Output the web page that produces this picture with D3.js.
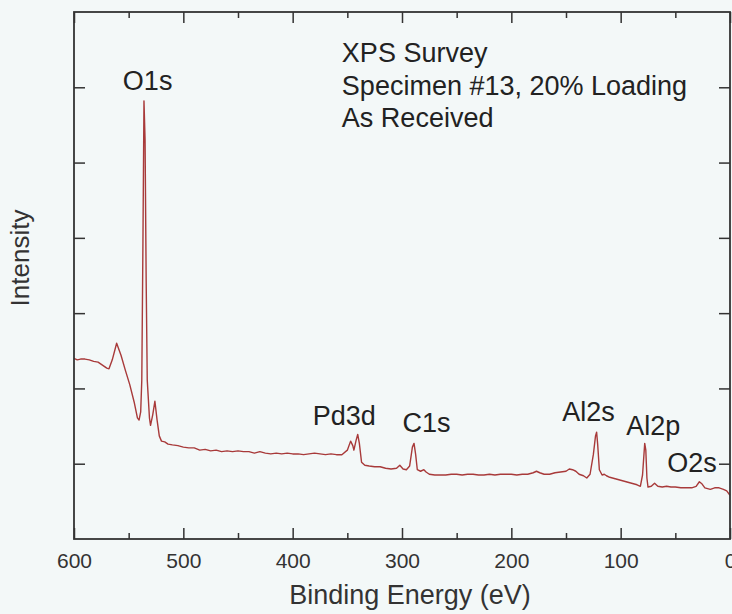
<!DOCTYPE html>
<html>
<head>
<meta charset="utf-8">
<script src="https://cdn.jsdelivr.net/npm/d3@7"></script>
<style>
  body { margin: 0; background: #f3f8f8; }
  svg { display: block; font-family: "Liberation Sans", Arial, sans-serif; }
</style>
</head>
<body>
<script>
// binding energy (eV) and intensity
var energy = [600, 597, 594, 590, 586, 582, 578, 574, 570, 568, 565, 561, 557, 553, 549, 545, 542, 540.5, 539, 538,
  537, 536, 535, 534, 533, 531, 530, 528, 526, 524, 522, 520, 517, 514, 510, 505, 500, 495, 490, 485,
  480, 475, 470, 465, 460, 455, 450, 445, 440, 435, 430, 425, 420, 415, 410, 405, 400, 395, 390, 385,
  380, 375, 370, 365, 360, 355, 350, 347, 345, 344, 342, 340.5, 339, 337, 334, 330, 325, 320, 315, 310,
  305, 302, 299, 296, 293, 290.5, 289, 287.5, 286, 283, 280, 278, 275, 270, 265, 260, 255, 250, 245, 240,
  235, 230, 225, 220, 215, 210, 205, 200, 195, 190, 185, 180, 177, 174, 170, 165, 160, 155, 150, 147,
  144, 141, 138, 134, 131, 128, 125, 123, 122, 121, 119.5, 117, 115, 113, 110, 105, 100, 95, 90, 85,
  82, 80, 78, 77, 76, 75, 72, 69, 66, 62, 58, 54, 50, 45, 40, 35, 31, 28, 25.5, 23,
  18, 14, 10, 6, 3, 0];
var intensity = [24.0, 23.8, 23.9, 23.9, 23.8, 23.6, 23.5, 23.1, 22.7, 22.6, 23.8, 26.0, 24.4, 22.4, 20.5, 18.2, 16.1, 15.8, 16.9, 21.1,
  38.4, 58.2, 53.0, 34.4, 21.1, 16.1, 15.1, 16.5, 18.3, 15.8, 13.7, 13.0, 12.9, 12.6, 12.5, 12.4, 12.2, 12.1, 12.1, 11.8,
  11.9, 11.7, 11.8, 11.6, 11.7, 11.6, 11.7, 11.6, 11.6, 11.4, 11.6, 11.4, 11.3, 11.4, 11.3, 11.4, 11.3, 11.3, 11.2, 11.3,
  11.4, 11.3, 11.2, 11.3, 11.2, 11.2, 11.8, 13.0, 12.4, 11.8, 13.1, 13.9, 12.7, 10.2, 9.8, 9.7, 9.6, 9.6, 9.4, 9.3,
  9.4, 9.8, 9.3, 9.2, 9.7, 12.2, 12.7, 11.2, 9.2, 9.0, 9.2, 8.9, 8.6, 8.5, 8.5, 8.5, 8.6, 8.6, 8.5, 8.6,
  8.6, 8.5, 8.5, 8.6, 8.5, 8.6, 8.6, 8.6, 8.5, 8.6, 8.6, 8.8, 9.0, 8.8, 8.6, 8.6, 8.8, 8.9, 9.0, 9.3,
  9.2, 9.0, 8.6, 8.4, 8.1, 8.6, 11.2, 13.7, 14.2, 12.5, 9.2, 8.5, 8.6, 8.4, 8.2, 8.0, 7.8, 7.6, 7.4, 7.2,
  7.0, 8.5, 12.7, 11.8, 8.1, 6.9, 7.0, 7.4, 7.0, 6.9, 7.0, 6.9, 6.9, 6.8, 6.8, 6.8, 7.0, 7.6, 7.3, 6.8,
  6.6, 6.8, 6.8, 6.6, 6.4, 5.8];

var xTicks = [600, 500, 400, 300, 200, 100, 0];
var xMinor = [550, 450, 350, 250, 150, 50];
var yTicks = [10, 20, 30, 40, 50, 60];

// peak labels: name, where the label starts (eV) and its baseline (intensity)
var peakNames = ["O1s", "Pd3d", "C1s", "Al2s", "Al2p", "O2s"];
var peakEnergy = [555.3, 381.7, 299.5, 153.4, 95.0, 57.5];
var peakLevel = [59.6, 15.1, 14.2, 15.7, 13.8, 8.9];

var noteLines = ["XPS Survey", "Specimen #13, 20% Loading", "As Received"];

function init() {
    var w = 732, h = 614;
    var margin = {top: 12, right: 2, bottom: 75, left: 74};
    var iw = w - margin.left - margin.right;
    var ih = h - margin.top - margin.bottom;

    var svg = d3.select("body").append("svg")
        .attr("width", w)
        .attr("height", h);

    var g = svg.append("g")
        .attr("transform", "translate(" + margin.left + "," + margin.top + ")");

    var x = d3.scaleLinear().domain([600, 0]).range([0, iw]);
    var y = d3.scaleLinear().domain([0, 70]).range([ih, 0]);

    var ink = "#333";

    // spectrum
    var pts = energy.map(function (e, i) { return [e, intensity[i]]; });
    var line = d3.line()
        .x(function (d) { return x(d[0]); })
        .y(function (d) { return y(d[1]); });
    g.append("path")
        .datum(pts)
        .attr("fill", "none")
        .attr("stroke", "#a83a3a")
        .attr("stroke-width", 1.4)
        .attr("stroke-linejoin", "round")
        .attr("d", line);

    // axes: ticks pointing inward on all four sides
    function styleAxis(sel) {
        sel.selectAll(".domain").remove();
        sel.selectAll("line").attr("stroke", ink).attr("stroke-width", 1.5);
        sel.selectAll("text").attr("fill", ink).attr("font-size", 21);
    }
    g.append("g").attr("transform", "translate(0," + ih + ")")
        .call(d3.axisBottom(x).tickValues(xTicks).tickSize(-11).tickPadding(14).tickFormat(d3.format("d")))
        .call(styleAxis);
    g.append("g").attr("transform", "translate(0," + ih + ")")
        .call(d3.axisBottom(x).tickValues(xMinor).tickSize(-6).tickFormat(""))
        .call(styleAxis);
    g.append("g")
        .call(d3.axisTop(x).tickValues(xTicks).tickSize(-11).tickFormat(""))
        .call(styleAxis);
    g.append("g")
        .call(d3.axisTop(x).tickValues(xMinor).tickSize(-6).tickFormat(""))
        .call(styleAxis);
    g.append("g")
        .call(d3.axisLeft(y).tickValues(yTicks).tickSize(-11).tickFormat(""))
        .call(styleAxis);
    g.append("g").attr("transform", "translate(" + iw + ",0)")
        .call(d3.axisRight(y).tickValues(yTicks).tickSize(-11).tickFormat(""))
        .call(styleAxis);

    g.append("rect")
        .attr("width", iw)
        .attr("height", ih)
        .attr("fill", "none")
        .attr("stroke", ink)
        .attr("stroke-width", 1.8);

    // axis titles
    svg.append("text")
        .attr("x", 410)
        .attr("y", 604)
        .attr("text-anchor", "middle")
        .attr("font-size", 27)
        .attr("fill", ink)
        .text("Binding Energy (eV)");
    svg.append("text")
        .attr("transform", "translate(29,258) rotate(-90)")
        .attr("text-anchor", "middle")
        .attr("font-size", 26)
        .attr("fill", ink)
        .text("Intensity");

    // peak labels
    g.selectAll(".peak")
        .data(peakNames)
        .enter().append("text")
        .attr("class", "peak")
        .attr("x", function (d, i) { return x(peakEnergy[i]); })
        .attr("y", function (d, i) { return y(peakLevel[i]); })
        .attr("font-size", 27)
        .attr("fill", "#222")
        .text(function (d) { return d; });

    // note block
    g.selectAll(".note")
        .data(noteLines)
        .enter().append("text")
        .attr("class", "note")
        .attr("x", x(355))
        .attr("y", function (d, i) { return 50 + i * 32.5; })
        .attr("font-size", 27)
        .attr("fill", "#222")
        .text(function (d) { return d; });
}
window.onload = init;
</script>
</body>
</html>
